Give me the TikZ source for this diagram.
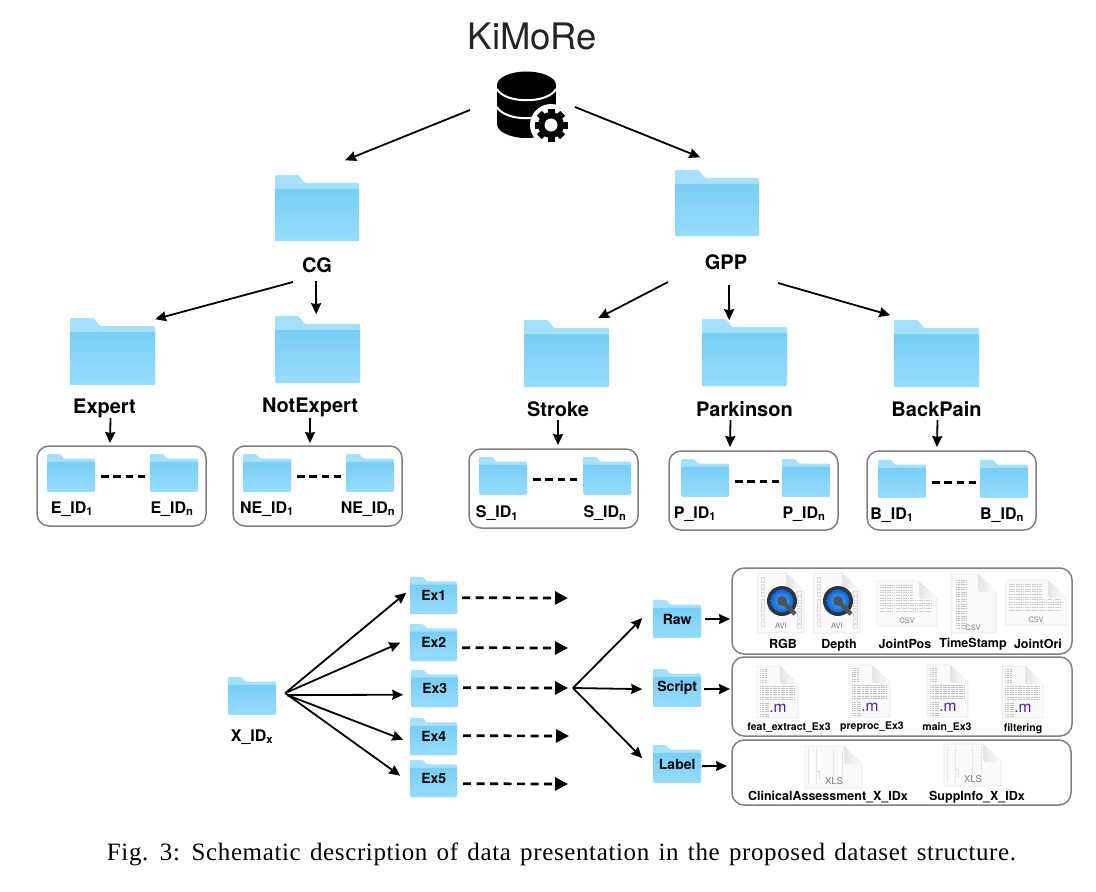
\documentclass[tikz,border=0pt]{standalone}
\usepackage{fontspec}
\usepackage{xcolor}
\setmainfont{TeX Gyre Heros}
\newfontfamily\captionfont[LetterSpace=2.5,WordSpace=1.35]{Liberation Serif}
\usetikzlibrary{arrows.meta}
\definecolor{folderback}{HTML}{A5E0FE}
\definecolor{foldertop}{HTML}{78CEF6}
\definecolor{folderbottom}{HTML}{97DCFD}
\definecolor{boxgray}{HTML}{808080}
\definecolor{pagefill}{HTML}{FAFAFA}
\definecolor{pageedge}{HTML}{E8E8E8}
\definecolor{foldfill}{HTML}{E4E4E4}
\definecolor{qdark}{HTML}{2F343B}
\definecolor{qstem}{HTML}{4E545C}
\definecolor{qblue}{HTML}{0B62D8}
\definecolor{qlight}{HTML}{4FB6FF}
\definecolor{mpurple}{HTML}{5A1FA0}
\tikzset{
	link/.style = {line width=1.8pt, -{Stealth[length=11pt,width=10pt,inset=1pt]}},
	dotlink/.style = {line width=2.7pt, dash pattern=on 8pt off 5.5pt, -{Stealth[length=13pt,width=13pt,inset=0pt]}},
	dashrow/.style = {line width=3pt, dash pattern=on 7.4pt off 4.8pt},
	groupbox/.style = {draw=boxgray, line width=1.5pt, rounded corners=12pt, inner sep=0pt},
	foldernode/.style = {inner sep=0pt, font=\fontsize{14}{16}\selectfont\bfseries},
	biglabel/.style = {inner sep=0pt, font=\fontsize{20}{22}\selectfont\bfseries},
	idlabel/.style = {inner sep=0pt, font=\fontsize{16}{18}\selectfont\bfseries},
	filelabel/.style = {inner sep=0pt, font=\fontsize{12.5}{14}\selectfont\bfseries},
	scriptlabel/.style = {inner sep=0pt, font=\fontsize{10.5}{12}\selectfont\bfseries},
	icontext/.style = {inner sep=0pt, text=black!50, font=\fontsize{7.5}{9}\selectfont},
	tinyline/.style = {draw=black!14, line width=0.4pt},
	textline/.style = {draw=black!24, line width=0.7pt, dash pattern=on 1.2pt off 0.4pt},
	gridline/.style = {draw=black!20, line width=1pt, dash pattern=on 1.6pt off 0.7pt}
}
\newcommand{\folder}[5]{
	\begin{scope}[shift={(#2,#3)},scale=#4/85]
		\fill[folderback,rounded corners=1.2pt] (0,67) -- (0,0) -- (24,0) -- (30,8) -- (85,8) -- (85,67) -- cycle;
		\shade[top color=foldertop,bottom color=folderbottom,rounded corners=1.2pt] (0,14) rectangle (85,67);
	\end{scope}
	\node[foldernode,anchor=north west,minimum width=#4,minimum height=#4*0.788] (#1) at (#2,#3) {#5};
}
\newcommand{\pageicon}[5]{
	\begin{scope}[shift={(#2,#3)}]
		\filldraw[fill=pagefill,draw=pageedge,line width=0.8pt,rounded corners=0.8pt] (0,0) -- (#4-18,0) -- (#4,18) -- (#4,#5) -- (0,#5) -- cycle;
	\end{scope}
	\node[inner sep=0pt,anchor=north west,minimum width=#4,minimum height=#5] (#1) at (#2,#3) {};
}
\newcommand{\pagefold}[3]{
	\begin{scope}[shift={(#1,#2)}]
		\shade[left color=foldfill,right color=white,rounded corners=1pt] (#3-18,0) -- (#3,18) -- (#3-16,18) -- (#3-18,16) -- cycle;
	\end{scope}
}
\newcommand{\avifile}[3]{
	\pageicon{#1}{#2}{#3}{46}{60}
	\begin{scope}[shift={(#2,#3)}]
		\foreach \k in {0,...,6} {
			\draw[tinyline] (3,4+7.4*\k) rectangle ++(3.5,4.8);
			\draw[tinyline] (39.5,18+5.6*\k) rectangle ++(3.5,3.8);
		}
	\end{scope}
	\pagefold{#2}{#3}{46}
	\begin{scope}[shift={(#2,#3)}]
		\fill[qdark] (24,28) circle (15);
		\shade[inner color=qlight,outer color=qblue] (24,28) circle (11.5);
		\fill[qstem] (24,28) circle (5);
		\draw[qstem,line width=4.5pt] (25,29) -- (37,41);
		\node[icontext] (#1text) at (23,53) {AVI};
	\end{scope}
}
\newcommand{\csvfile}[3]{
	\pageicon{#1}{#2}{#3}{60}{45}
	\begin{scope}[shift={(#2,#3)}]
		\foreach \r in {0,...,5}
			\draw[gridline] (3,4+2.6*\r) -- (36,4+2.6*\r);
		\foreach \r in {6,...,10}
			\draw[gridline] (3,4+2.6*\r) -- (54,4+2.6*\r);
	\end{scope}
	\pagefold{#2}{#3}{60}
	\node[icontext] (#1text) at (#2+30,#3+40) {CSV};
}
\newcommand{\mfile}[3]{
	\pageicon{#1}{#2}{#3}{41}{52}
	\begin{scope}[shift={(#2,#3)}]
		\foreach \r in {0,...,6}
			\draw[textline] (3,3+2.2*\r) -- (10,3+2.2*\r);
		\foreach \r in {0,...,6}
			\draw[textline] (3,20+2.2*\r) -- (37,20+2.2*\r);
		\foreach \r in {0,...,6}
			\draw[textline] (3,37+2.2*\r) -- (12,37+2.2*\r);
	\end{scope}
	\pagefold{#2}{#3}{41}
	\node[inner sep=0pt,text=mpurple,font=\fontsize{15.5}{18}\selectfont] (#1text) at (#2+21,#3+42) {.m};
}
\newcommand{\xlsfile}[3]{
	\pageicon{#1}{#2}{#3}{57}{42}
	\begin{scope}[shift={(#2,#3)}]
		\foreach \c in {3,11,28,37}
			\draw[tinyline,dash pattern=on 1pt off 0.6pt] (\c,3) -- (\c,37);
		\draw[tinyline] (11,25) -- (14,25) -- (14,34);
	\end{scope}
	\pagefold{#2}{#3}{57}
	\node[icontext,font=\fontsize{9.5}{11}\selectfont] (#1text) at (#2+29,#3+35.5) {XLS};
}
\begin{document}
\begin{tikzpicture}[x=1pt,y=-1pt]
	\useasboundingbox (0,0) rectangle (1096,892);

	\node[inner sep=0pt,text=black!86,font=\fontsize{36.5}{40}\selectfont] (kimore) at (532.5,36) {KiMoRe};
	\fill (497,85) rectangle (556,124);
	\fill (526.5,85) ellipse [x radius=29.5,y radius=13.5];
	\fill (526.5,124) ellipse [x radius=29.5,y radius=14];
	\draw[white,line width=2pt] (497,89) .. controls (505,104) and (548,104) .. (556,89);
	\draw[white,line width=2pt] (497,107) .. controls (505,122) and (548,122) .. (556,107);
	\fill[white] (551,125) circle (21);
	\foreach \a in {0,45,...,315}
		\fill[rotate around={\a:(551,125)}] (547.5,108.5) rectangle (554.5,116);
	\fill (551,125) circle (13);
	\fill[white] (551,125) circle (6.5);
	\node[inner sep=0pt,minimum width=72,minimum height=70] (db) at (533,107) {};

	\folder{cg}{275}{175}{84}{}
	\folder{gpp}{675}{170}{84}{}
	\node[biglabel] (cglabel) at (317,265) {CG};
	\node[biglabel] (gpplabel) at (726,262) {GPP};
	\folder{expert}{70}{318}{85}{}
	\folder{notexpert}{275}{316}{85}{}
	\folder{stroke}{524}{320}{85}{}
	\folder{parkinson}{702}{319}{85}{}
	\folder{backpain}{894}{320}{85}{}
	\node[biglabel] (expertlabel) at (104.5,408) {Expert};
	\node[biglabel] (notexpertlabel) at (310,407) {NotExpert};
	\node[biglabel] (strokelabel) at (558,409) {Stroke};
	\node[biglabel] (parkinsonlabel) at (744.5,409) {Parkinson};
	\node[biglabel] (backpainlabel) at (936.5,409) {BackPain};

	\draw[link] ([shift={(-63,3)}]db.center) -- ([shift={(28,-48)}]cg.center);
	\draw[link] ([shift={(42,0)}]db.center) -- ([shift={(-17,-46)}]gpp.center);
	\draw[link] ([shift={(-24,17)}]cglabel.center) -- ([shift={(42.5,-32.5)}]expert.center);
	\draw[link] ([shift={(-1,16)}]cglabel.center) -- ([shift={(-1.5,-35.5)}]notexpert.center);
	\draw[link] ([shift={(-58,20)}]gpplabel.center) -- ([shift={(31.5,-35.5)}]stroke.center);
	\draw[link] ([shift={(3,23)}]gpplabel.center) -- ([shift={(-15.5,-32.5)}]parkinson.center);
	\draw[link] ([shift={(52,21)}]gpplabel.center) -- ([shift={(-46.5,-38.5)}]backpain.center);

	\node[groupbox,minimum width=169,minimum height=80] (ebox) at (121.5,486) {};
	\node[groupbox,minimum width=169,minimum height=80] (nebox) at (317.5,486) {};
	\node[groupbox,minimum width=169,minimum height=79] (sbox) at (553.5,488.5) {};
	\node[groupbox,minimum width=169,minimum height=79] (pbox) at (753.5,490.5) {};
	\node[groupbox,minimum width=169,minimum height=79] (bbox) at (951.5,490.5) {};

	\draw[link] ([shift={(6,10)}]expertlabel.center) -- ([shift={(-11.5,-43)}]ebox.center);
	\draw[link] ([shift={(0,11)}]notexpertlabel.center) -- ([shift={(-7.5,-43)}]nebox.center);
	\draw[link] ([shift={(0,11)}]strokelabel.center) -- ([shift={(4.5,-43.5)}]sbox.center);
	\draw[link] ([shift={(-14,11)}]parkinsonlabel.center) -- ([shift={(-23.5,-43.5)}]pbox.center);
	\draw[link] ([shift={(1,11)}]backpainlabel.center) -- ([shift={(-14.5,-43.5)}]bbox.center);

	\folder{eone}{47}{454}{48}{}
	\folder{en}{150}{454}{48}{}
	\folder{neone}{243}{454}{48}{}
	\folder{nen}{346}{454}{48}{}
	\folder{sone}{479}{457}{48}{}
	\folder{sn}{583}{457}{48}{}
	\folder{pone}{681}{459}{48}{}
	\folder{pn}{782}{459}{48}{}
	\folder{bone}{878}{460}{48}{}
	\folder{bn}{980}{460}{48}{}
	\draw[dashrow] ([shift={(30,3)}]eone.center) -- ([shift={(-29,3)}]en.center);
	\draw[dashrow] ([shift={(30,3)}]neone.center) -- ([shift={(-29,3)}]nen.center);
	\draw[dashrow] ([shift={(30,3)}]sone.center) -- ([shift={(-30,3)}]sn.center);
	\draw[dashrow] ([shift={(30,3)}]pone.center) -- ([shift={(-27,3)}]pn.center);
	\draw[dashrow] ([shift={(30,3)}]bone.center) -- ([shift={(-28,3)}]bn.center);
	\node[idlabel] (eonelabel) at (72,509) {E\_ID\textsubscript{1}};
	\node[idlabel] (enlabel) at (172,509) {E\_ID\textsubscript{n}};
	\node[idlabel] (neonelabel) at (267,509) {NE\_ID\textsubscript{1}};
	\node[idlabel] (nenlabel) at (368,509) {NE\_ID\textsubscript{n}};
	\node[idlabel] (sonelabel) at (497,513) {S\_ID\textsubscript{1}};
	\node[idlabel] (snlabel) at (605,513) {S\_ID\textsubscript{n}};
	\node[idlabel] (ponelabel) at (695,514) {P\_ID\textsubscript{1}};
	\node[idlabel] (pnlabel) at (804,514) {P\_ID\textsubscript{n}};
	\node[idlabel] (bonelabel) at (892,515) {B\_ID\textsubscript{1}};
	\node[idlabel] (bnlabel) at (1002,515) {B\_ID\textsubscript{n}};

	\folder{xid}{228}{677}{48}{}
	\node[idlabel] (xidlabel) at (252,737) {X\_ID\textsubscript{x}};
	\folder{exone}{410}{577}{47}{Ex1}
	\folder{extwo}{410}{624}{47}{Ex2}
	\folder{exthree}{411}{670}{47}{Ex3}
	\folder{exfour}{410}{718}{47}{Ex4}
	\folder{exfive}{410}{760}{47}{Ex5}
	\draw[link] ([shift={(33,-3)}]xid.center) -- ([shift={(-27.5,-3)}]exone.center);
	\draw[link] ([shift={(33,-3)}]xid.center) -- ([shift={(-33.5,0)}]extwo.center);
	\draw[link] ([shift={(35,-1)}]xid.center) -- ([shift={(-31.5,6)}]exthree.center);
	\draw[link] ([shift={(35,-1)}]xid.center) -- ([shift={(-30.5,3)}]exfour.center);
	\draw[link] ([shift={(33,-3)}]xid.center) -- ([shift={(-33.5,-3)}]exfive.center);

	\coordinate (endone) at (568,598);
	\coordinate (endtwo) at (568,648);
	\coordinate (split) at (568,688);
	\coordinate (endfour) at (569,736);
	\coordinate (endfive) at (568,784);
	\coordinate (fork) at (573,688);
	\draw[dotlink] ([shift={(28.5,2)}]exone.center) -- (endone);
	\draw[dotlink] ([shift={(28.5,5)}]extwo.center) -- (endtwo);
	\draw[dotlink] ([shift={(28.5,-1)}]exthree.center) -- (split);
	\draw[dotlink] ([shift={(29.5,-1)}]exfour.center) -- (endfour);
	\draw[dotlink] ([shift={(29.5,5)}]exfive.center) -- (endfive);

	\folder{raw}{653}{600}{48}{Raw}
	\folder{script}{653}{669}{48}{Script}
	\folder{label}{653}{745}{48}{Label}
	\draw[link] (fork) -- ([shift={(-35,-1)}]raw.center);
	\draw[link] (fork) -- ([shift={(-35,1)}]script.center);
	\draw[link] (fork) -- ([shift={(-35,-6)}]label.center);

	\node[groupbox,minimum width=340,minimum height=86] (rawbox) at (902,611) {};
	\node[groupbox,minimum width=340,minimum height=79] (scriptbox) at (902,696.5) {};
	\node[groupbox,minimum width=339,minimum height=65] (labelbox) at (901.5,772.5) {};
	\draw[link] ([shift={(28,0)}]raw.center) -- ([shift={(-172,8)}]rawbox.center);
	\draw[link] ([shift={(27,1)}]script.center) -- ([shift={(-172,-7.5)}]scriptbox.center);
	\draw[link] ([shift={(25,2)}]label.center) -- ([shift={(-174.5,-6.5)}]labelbox.center);

	\avifile{rgb}{758}{573}
	\avifile{depth}{814}{573}
	\csvfile{jointpos}{877}{581}
	\pageicon{timestamp}{951}{574}{45}{59}
	\foreach \r in {0,...,20}
		\draw[textline] (956,580+2.4*\r) -- (966,580+2.4*\r);
	\pagefold{951}{574}{45}
	\node[icontext] (timestamptext) at (973,628) {CSV};
	\csvfile{jointori}{1006}{580}
	\node[filelabel] (rgblabel) at (783,644) {RGB};
	\node[filelabel] (depthlabel) at (839,645) {Depth};
	\node[filelabel] (jointposlabel) at (905,644) {JointPos};
	\node[filelabel] (timestamplabel) at (973,644) {TimeStamp};
	\node[filelabel] (jointorilabel) at (1038,644) {JointOri};

	\mfile{featfile}{757}{666}
	\mfile{preprocfile}{849}{665}
	\mfile{mainfile}{927}{665}
	\mfile{filterfile}{1002}{666}
	\node[scriptlabel] (featlabel) at (789,728) {feat\_extract\_Ex3};
	\node[scriptlabel] (preproclabel) at (872,727) {preproc\_Ex3};
	\node[scriptlabel] (mainlabel) at (947,728) {main\_Ex3};
	\node[scriptlabel] (filterlabel) at (1023,729) {filtering};

	\xlsfile{clinicalfile}{805}{746}
	\xlsfile{suppfile}{944}{744}
	\node[filelabel] (clinicallabel) at (828,797) {ClinicalAssessment\_X\_IDx};
	\node[filelabel] (supplabel) at (977,797) {SuppInfo\_X\_IDx};

	\node[inner sep=0pt,font=\captionfont\fontsize{25}{27}\selectfont] (caption) at (561.5,854) {Fig. 3: Schematic description of data presentation in the proposed dataset structure.};
\end{tikzpicture}
\end{document}
